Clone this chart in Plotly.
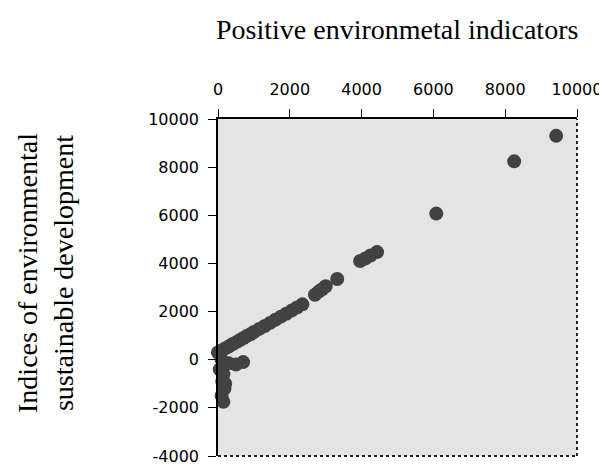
import plotly.graph_objects as go

# Positive environmental indicators (x) vs indices of environmental sustainable development (y)
x_vals = [0, 100, 200, 300, 400, 500, 600, 700, 800, 900, 1000, 1150, 1300, 1450, 1600,
          1750, 1900, 2050, 2200, 2350,
          2700, 2800, 2900, 3000, 3320,
          3960, 4100, 4250, 4430,
          6080, 8250, 9420,
          100, 50, 120, 150, 120, 200, 180, 100, 150, 300, 500, 700]
y_vals = [300, 380, 470, 550, 640, 720, 810, 890, 980, 1060, 1150, 1280, 1400, 1530, 1660,
          1790, 1910, 2040, 2170, 2300,
          2700, 2820, 2930, 3050, 3350,
          4100, 4200, 4330, 4470,
          6070, 8240, 9300,
          0, -400, -300, -600, -900, -1000, -1200, -1500, -1750, -150, -200, -100]

x_ticks = [0, 2000, 4000, 6000, 8000, 10000]
y_ticks = [-4000, -2000, 0, 2000, 4000, 6000, 8000, 10000]

title_text = "Positive environmetal indicators"
ytitle_text = "Indices of environmental<br>sustainable development"

serif = "Liberation Serif, Times New Roman, serif"
sans = "DejaVu Sans, Arial, sans-serif"

fig = go.Figure()
fig.add_trace(go.Scatter(
    x=x_vals, y=y_vals, mode="markers",
    marker=dict(size=14, color="#424242", line=dict(width=0)),
    cliponaxis=False, showlegend=False,
))

fig.update_layout(
    width=607, height=470,
    margin=dict(l=210, r=38, t=111, b=18),
    paper_bgcolor="white",
    plot_bgcolor="#e4e4e4",
    font=dict(family=sans, size=16, color="black"),
    xaxis=dict(
        side="top", range=[0, 10000], tickvals=x_ticks,
        ticktext=[str(v) for v in x_ticks],
        showgrid=False, zeroline=False,
        showline=True, linecolor="black", linewidth=1.5, mirror=False,
        ticks="outside", ticklen=8, tickcolor="black", tickwidth=1,
        ticklabelstandoff=8,
        tickfont=dict(family=sans, size=16),
    ),
    yaxis=dict(
        range=[-4000, 10000], tickvals=y_ticks,
        ticktext=[str(v) for v in y_ticks],
        showgrid=False, zeroline=False,
        showline=True, linecolor="black", linewidth=1.5, mirror=False,
        ticks="outside", ticklen=8, tickcolor="black", tickwidth=1,
        ticklabelstandoff=6,
        tickfont=dict(family=sans, size=16),
    ),
    shapes=[
        dict(type="line", xref="paper", yref="paper", x0=1, x1=1, y0=0, y1=1,
             line=dict(color="#222222", width=2, dash="dot")),
        dict(type="line", xref="paper", yref="paper", x0=0, x1=1, y0=0, y1=0,
             line=dict(color="#222222", width=2, dash="dot")),
    ],
    annotations=[
        dict(text=title_text, xref="paper", yref="paper", x=0.499, y=1.267,
             showarrow=False, xanchor="center", yanchor="middle",
             font=dict(family=serif, size=28, color="black")),
        dict(text=ytitle_text, xref="paper", yref="paper", x=-0.482, y=0.543,
             showarrow=False, textangle=-90, xanchor="center", yanchor="middle",
             font=dict(family=serif, size=28, color="black")),
    ],
)

fig.write_html("out.html")
